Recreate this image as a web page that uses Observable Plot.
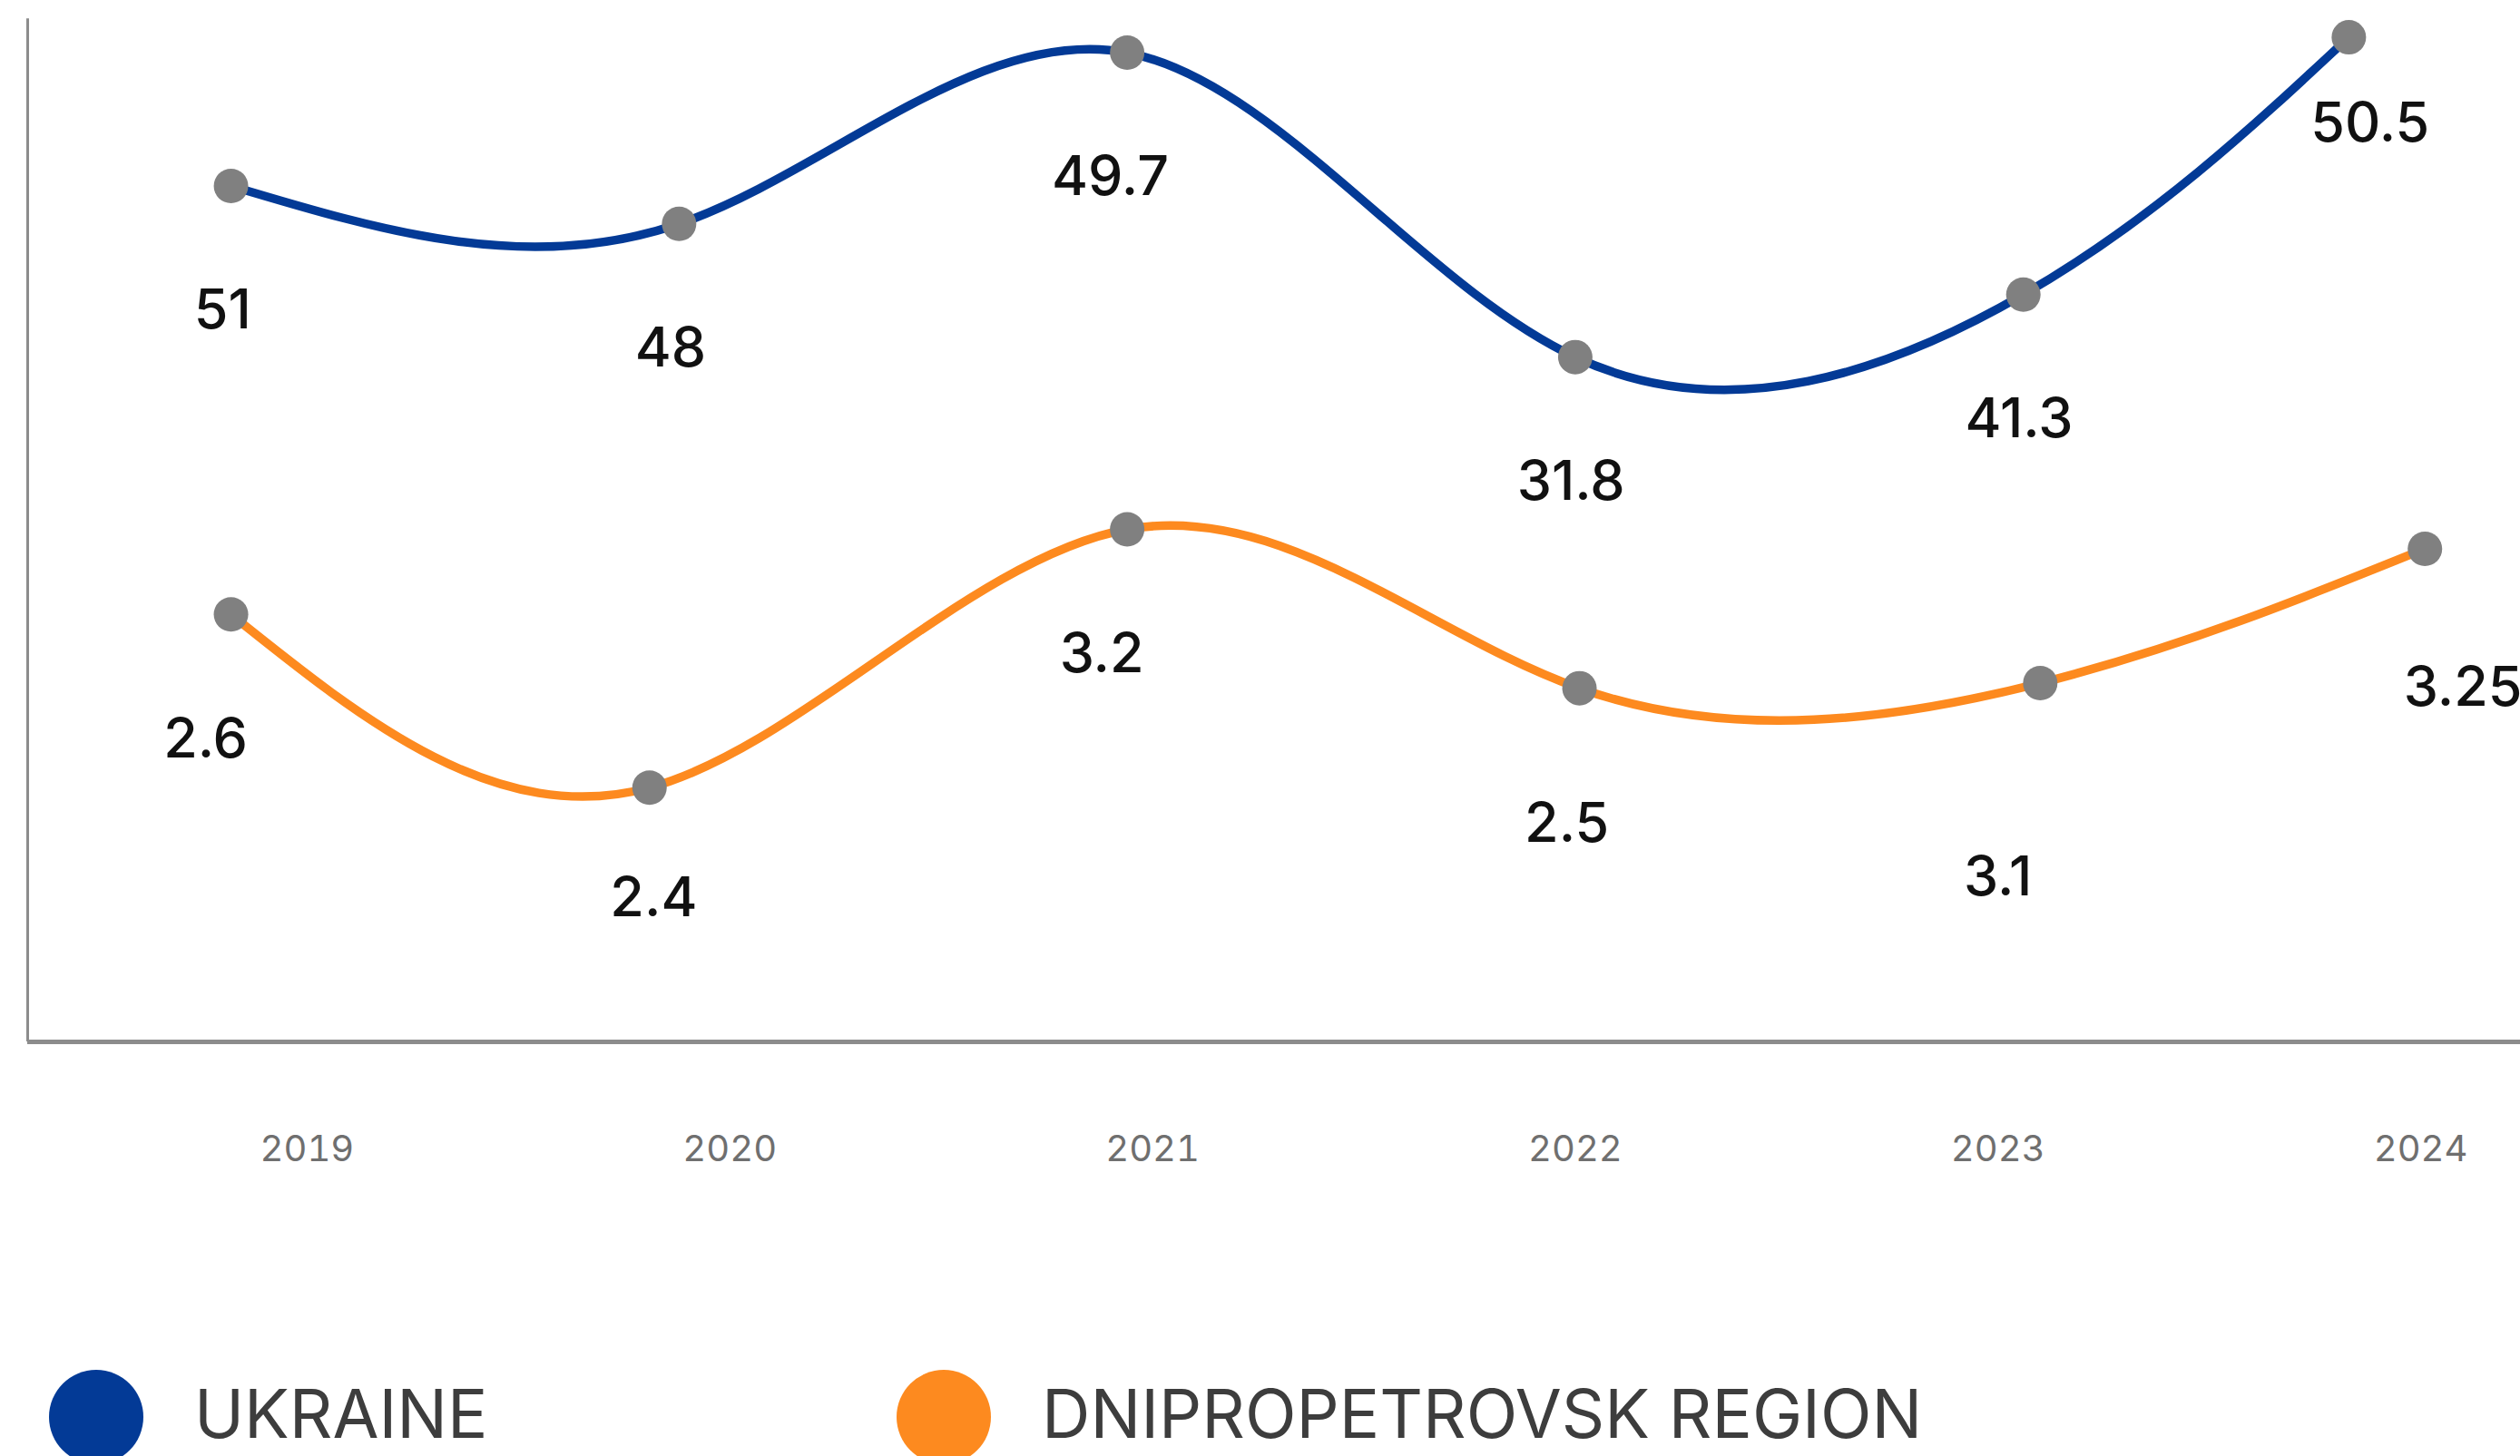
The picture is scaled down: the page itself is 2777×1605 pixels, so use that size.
<!DOCTYPE html>
<html>
<head>
<meta charset="utf-8">
<script src="https://cdn.jsdelivr.net/npm/d3@7"></script>
<script src="https://cdn.jsdelivr.net/npm/@observablehq/plot@0.6"></script>
<style>
  html, body { margin: 0; padding: 0; background: #fff; overflow: hidden; }
  body { width: 2777px; height: 1605px; font-family: Inter, "Noto Sans", sans-serif; }
  #chart svg { display: block; }
  #legend { position: relative; width: 2777px; height: 205px; }
  .sw { position: absolute; border-radius: 50%; }
  .lt { position: absolute; font-size: 74px; color: #3d3d3d; line-height: 1; white-space: nowrap; }
</style>
</head>
<body>
<div id="chart"></div>
<div id="legend"></div>
<script>
// ---- data ----
const years = [2019, 2020, 2021, 2022, 2023, 2024];
const seriesNames = ["UKRAINE", "DNIPROPETROVSK REGION"];
const seriesColors = ["#033a96", "#fd8a1f"];

const ukraineValues = [51, 48, 49.7, 31.8, 41.3, 50.5];
const regionValues = [2.6, 2.4, 3.2, 2.5, 3.1, 3.25];

// where each point sits in the picture (x in years, y on a hidden 0–100 level scale)
const ukrainePlotX = [2018.82, 2019.88, 2020.94, 2022.00, 2023.06, 2023.83];
const ukrainePlotLevel = [83.5, 79.8, 96.5, 66.8, 72.9, 98.0];
const regionPlotX = [2018.82, 2019.81, 2020.94, 2022.01, 2023.10, 2024.01];
const regionPlotLevel = [41.7, 24.8, 50.0, 34.5, 35.0, 48.1];

// where each value label sits (same units)
const ukraineLabelX = [2018.80, 2019.86, 2020.90, 2021.99, 2023.05, 2023.88];
const ukraineLabelLevel = [71.3, 67.6, 84.3, 54.6, 60.7, 89.6];
const regionLabelX = [2018.76, 2019.82, 2020.88, 2021.98, 2023.00, 2024.10];
const regionLabelLevel = [29.5, 14.0, 37.8, 21.2, 16.0, 34.5];

// ---- build tables ----
const ukraine = years.map((yr, i) => ({
  series: seriesNames[0], year: yr, value: ukraineValues[i],
  px: ukrainePlotX[i], py: ukrainePlotLevel[i], lx: ukraineLabelX[i], ly: ukraineLabelLevel[i]
}));
const region = years.map((yr, i) => ({
  series: seriesNames[1], year: yr, value: regionValues[i],
  px: regionPlotX[i], py: regionPlotLevel[i], lx: regionLabelX[i], ly: regionLabelLevel[i]
}));
const all = ukraine.concat(region);

const W = 2777, H = 1400;
const xDomain = [2018.339, 2024.236];

const plot = Plot.plot({
  width: W,
  height: H,
  marginLeft: 30,
  marginRight: 0,
  marginTop: 18,
  marginBottom: 252,
  style: { fontFamily: "Inter, 'Noto Sans', sans-serif", background: "#fff", overflow: "visible" },
  x: { domain: xDomain, axis: null },
  y: { domain: [0, 100], axis: null },
  color: { domain: seriesNames, range: seriesColors },
  marks: [
    Plot.ruleX([xDomain[0]], { y1: 0, y2: 99.8, stroke: "#8c8c8c", strokeWidth: 3 }),
    Plot.ruleY([0], { stroke: "#8c8c8c", strokeWidth: 5 }),
    Plot.axisX(years, {
      tickSize: 0, tickPadding: 103, fontSize: 40, fill: "#6f6f6f",
      tickFormat: d => String(d)
    }),
    Plot.line(all, { x: "px", y: "py", z: "series", stroke: "series", strokeWidth: 9.5, curve: "natural" }),
    Plot.dot(all, { x: "px", y: "py", r: 19, fill: "#808080", stroke: "none" }),
    Plot.text(all, {
      x: "lx", y: "ly", text: d => String(d.value),
      fontSize: 61, fontWeight: 500, fill: "#111", textAnchor: "middle", lineAnchor: "middle"
    })
  ]
});
document.getElementById("chart").appendChild(plot);

// ---- legend ----
const legend = document.getElementById("legend");
const legendItems = [
  { name: seriesNames[0], color: seriesColors[0], cx: 106, tx: 214 },
  { name: seriesNames[1], color: seriesColors[1], cx: 1040, tx: 1148 }
];
legendItems.forEach(it => {
  const c = document.createElement("div");
  c.className = "sw";
  c.style.background = it.color;
  c.style.width = "104px"; c.style.height = "104px";
  c.style.left = (it.cx - 52) + "px";
  c.style.top = (162 - 52) + "px";
  legend.appendChild(c);
  const t = document.createElement("div");
  t.className = "lt";
  t.textContent = it.name;
  t.style.left = it.tx + "px";
  t.style.top = "121px";
  legend.appendChild(t);
});
</script>
</body>
</html>
